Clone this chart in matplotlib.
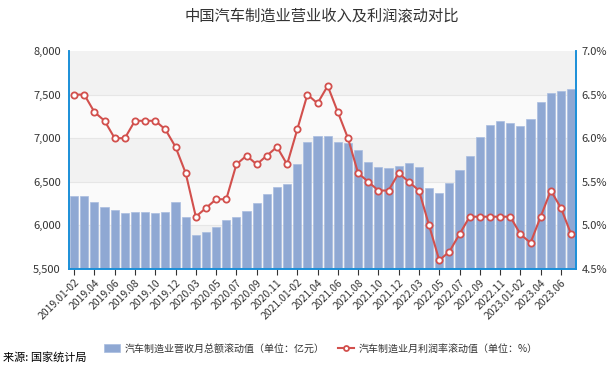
import matplotlib
matplotlib.use("Agg")
import matplotlib.pyplot as plt
import numpy as np

plt.rcParams['font.family'] = ['Noto Sans CJK SC', 'DejaVu Sans']

months = (["2019.01-02"] + [f"2019.{m:02d}" for m in range(3, 13)]
          + ["2020.01-02"] + [f"2020.{m:02d}" for m in range(3, 13)]
          + ["2021.01-02"] + [f"2021.{m:02d}" for m in range(3, 13)]
          + ["2022.01-02"] + [f"2022.{m:02d}" for m in range(3, 13)]
          + ["2023.01-02"] + [f"2023.{m:02d}" for m in range(3, 8)])

revenue = [6335, 6335, 6265, 6208, 6177, 6142, 6158, 6158, 6142, 6150, 6265,
           6100, 5889, 5919, 5977, 6062, 6092, 6162, 6258, 6362, 6442, 6477,
           6708, 6962, 7027, 7027, 6962, 6950, 6869, 6731, 6673, 6662, 6685,
           6719, 6665, 6431, 6373, 6488, 6635, 6796, 7019, 7146, 7196, 7169,
           7135, 7219, 7415, 7519, 7538, 7565]

margin = [6.5, 6.5, 6.3, 6.2, 6.0, 6.0, 6.2, 6.2, 6.2, 6.1, 5.9,
          5.6, 5.1, 5.2, 5.3, 5.3, 5.7, 5.8, 5.7, 5.8, 5.9, 5.7,
          6.1, 6.5, 6.4, 6.6, 6.3, 6.0, 5.6, 5.5, 5.4, 5.4, 5.6,
          5.5, 5.4, 5.0, 4.6, 4.7, 4.9, 5.1, 5.1, 5.1, 5.1, 5.1,
          4.9, 4.8, 5.1, 5.4, 5.2, 4.9]

left_ticks = [5500, 6000, 6500, 7000, 7500, 8000]
right_ticks = [4.5, 5.0, 5.5, 6.0, 6.5, 7.0]

fig = plt.figure(figsize=(6.11, 3.67), dpi=100)
ax = fig.add_axes([0.113, 0.267, 0.83, 0.594])
ax2 = ax.twinx()

x = np.arange(len(months))

# alternating background bands
for i, (lo, hi) in enumerate(zip(left_ticks[:-1], left_ticks[1:])):
    col = '#f2f2f2' if i % 2 == 0 else '#fafafa'
    ax.axhspan(lo, hi, color=col, zorder=0, lw=0)
for t in left_ticks[1:-1]:
    ax.axhline(t, color='#e6e6e6', lw=0.8, zorder=0.5)

ax.bar(x, revenue, width=0.8, color='#8fa8d3', edgecolor='#a9bde0', linewidth=0.5,
       zorder=2, label='汽车制造业营收月总额滚动值（单位：亿元）')
ax.set_ylim(5500, 8000)
ax.set_xlim(-0.5, len(months) - 0.5)
ax.set_yticks(left_ticks)
ax.set_yticklabels([f"{v:,}" for v in left_ticks])

ax2.plot(x, margin, color='#d2504d', lw=1.5, marker='o', markersize=4.5,
         markerfacecolor='white', markeredgecolor='#d2504d', markeredgewidth=1.3,
         zorder=3, label='汽车制造业月利润率滚动值（单位：%）')
ax2.set_ylim(4.5, 7.0)
ax2.set_yticks(right_ticks)
ax2.set_yticklabels([f"{v:.1f}%" for v in right_ticks])

ax.set_xticks(x[::2])
ax.set_xticklabels(months[::2], rotation=45, ha='right', rotation_mode='anchor', fontsize=7.5,
                   color='#333333')
ax.tick_params(axis='x', length=4, color='#333333', pad=2)
ax.tick_params(axis='y', length=0, labelsize=8, labelcolor='#333333', pad=6)
ax2.tick_params(axis='y', length=0, labelsize=8, labelcolor='#333333', pad=4)

for a in (ax, ax2):
    a.spines['top'].set_visible(False)
    for s in ('left', 'right', 'bottom'):
        a.spines[s].set_color('#1a8fd8')
        a.spines[s].set_linewidth(1.2)

fig.text(0.527, 0.958, '中国汽车制造业营业收入及利润滚动对比', ha='center', va='center',
         fontsize=11, color='#333333')

h1, l1 = ax.get_legend_handles_labels()
h2, l2 = ax2.get_legend_handles_labels()
fig.legend(h1 + h2, l1 + l2, loc='center', bbox_to_anchor=(0.525, 0.05), ncol=2, frameon=False,
           fontsize=7.2, handlelength=1.6, handleheight=0.9, handletextpad=0.5,
           columnspacing=1.3, labelcolor='#333333', markerscale=0.8)

fig.text(0.005, 0.025, '来源: 国家统计局', ha='left', va='center', fontsize=8, color='black')

fig.savefig('out.png', dpi=100)
